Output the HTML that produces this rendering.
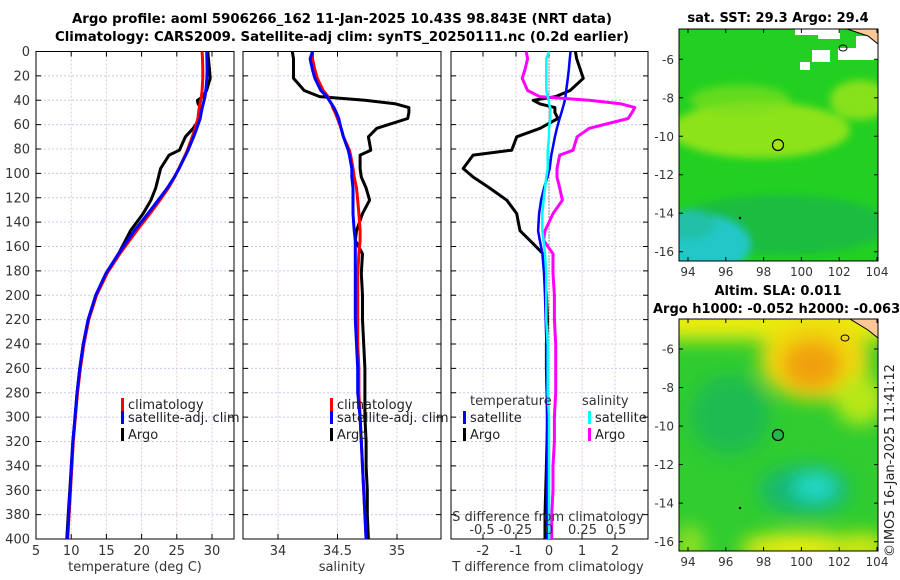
<!DOCTYPE html>
<html><head><meta charset="utf-8"><style>
body{margin:0;background:#fff}
svg{display:block;font-family:"DejaVu Sans","Liberation Sans",sans-serif}
</style></head><body>
<svg id="fig" width="900" height="580" xmlns="http://www.w3.org/2000/svg">
<defs>
<filter id="blur8"><feGaussianBlur stdDeviation="9"/></filter>
<filter id="blur3"><feGaussianBlur stdDeviation="4"/></filter>
<clipPath id="clipM1"><rect x="679" y="29" width="199" height="232"/></clipPath>
<clipPath id="clipM2"><rect x="679" y="319" width="199" height="232"/></clipPath>
</defs>
<text x="342" y="23" text-anchor="middle" font-weight="bold" font-size="13.3">Argo profile: aoml 5906266_162 11-Jan-2025 10.43S 98.843E (NRT data)</text>
<text x="342" y="41" text-anchor="middle" font-weight="bold" font-size="13.3">Climatology: CARS2009. Satellite-adj clim: synTS_20250111.nc (0.2d earlier)</text>
<g id="panels"></g>
<!-- Map 1: SST -->
<g>
<text x="778" y="22" text-anchor="middle" font-weight="bold" font-size="13">sat. SST: 29.3 Argo: 29.4</text>
<g clip-path="url(#clipM1)">
<rect x="679" y="29" width="199" height="232" fill="#22d022"/>
<g filter="url(#blur3)">
<ellipse cx="760" cy="130" rx="90" ry="28" fill="#a0e61a" opacity="0.85"/>
<ellipse cx="860" cy="100" rx="30" ry="20" fill="#a0e61a" opacity="0.8"/>
<ellipse cx="740" cy="100" rx="50" ry="15" fill="#7ee020" opacity="0.7"/>
<ellipse cx="780" cy="225" rx="110" ry="30" fill="#18b848" opacity="0.8"/>
<ellipse cx="700" cy="245" rx="50" ry="30" fill="#20c8c8"/>
<ellipse cx="690" cy="225" rx="25" ry="15" fill="#22c0a8"/>
</g>
<rect x="795" y="29" width="25" height="6" fill="#fff"/>
<rect x="818" y="29" width="22" height="10" fill="#fff"/>
<rect x="812" y="50" width="18" height="12" fill="#fff"/>
<rect x="838" y="48" width="28" height="12" fill="#fff"/>
<rect x="856" y="36" width="22" height="24" fill="#fff"/>
<rect x="800" y="62" width="10" height="8" fill="#fff"/>
<path d="M847,29 L878,29 L878,44 L868,36 Z" fill="#fdc896" stroke="#000" stroke-width="1"/>
<ellipse cx="843" cy="48" rx="4" ry="3" fill="none" stroke="#000"/>
<circle cx="778" cy="145" r="5.5" fill="#a0e61a" stroke="#000" stroke-width="1.2"/>
<circle cx="740" cy="218" r="1.2" fill="#000"/>
</g>
<rect x="679" y="29" width="199" height="232" fill="none" stroke="#000" stroke-width="1"/>
<g id="m1ticks" font-size="12" fill="#333"></g>
</g>
<!-- Map 2: SLA -->
<g>
<text x="778" y="295" text-anchor="middle" font-weight="bold" font-size="13">Altim. SLA: 0.011</text>
<text x="653" y="313" font-weight="bold" font-size="13">Argo h1000: -0.052 h2000: -0.063</text>
<g clip-path="url(#clipM2)">
<rect x="679" y="319" width="199" height="232" fill="#30cc30"/>
<g filter="url(#blur8)">
<rect x="660" y="300" width="240" height="40" fill="#e8ec10"/>
<ellipse cx="815" cy="360" rx="55" ry="40" fill="#f0d810"/>
<ellipse cx="812" cy="365" rx="30" ry="25" fill="#f0a010"/>
<ellipse cx="860" cy="400" rx="25" ry="25" fill="#b8e812"/>
<ellipse cx="730" cy="415" rx="40" ry="40" fill="#18b858" opacity="0.8"/>
<ellipse cx="805" cy="490" rx="45" ry="25" fill="#18b870"/>
<ellipse cx="815" cy="487" rx="22" ry="14" fill="#20d8c8"/>
<ellipse cx="800" cy="548" rx="60" ry="15" fill="#e8ec10"/>
<ellipse cx="860" cy="548" rx="30" ry="15" fill="#d0e810"/>
<ellipse cx="690" cy="545" rx="15" ry="20" fill="#90e020"/>
</g>
<path d="M850,319 L878,319 L878,338 L868,330 Z" fill="#fdc896" stroke="#000" stroke-width="1"/>
<ellipse cx="845" cy="338" rx="4" ry="3" fill="none" stroke="#000"/>
<circle cx="778" cy="435" r="5.5" fill="#28b848" stroke="#000" stroke-width="1.2"/>
<circle cx="740" cy="508" r="1.2" fill="#000"/>
</g>
<rect x="679" y="319" width="199" height="232" fill="none" stroke="#000" stroke-width="1"/>
<g id="m2ticks" font-size="12" fill="#333"></g>
</g>
<text transform="translate(894,557) rotate(-90)" font-size="13" fill="#222">©IMOS 16-Jan-2025 11:41:12</text>
</svg>
<script>
// ---- data (depth in m) ----
const depths = [0,6,15,22,32,37,40,43,46,50,55,63,70,81,85,96,103,112,122,133,147,155,166,182,200,220,240,260,280,300,320,340,360,380,400];
const climT = [28.6,28.65,28.7,28.7,28.6,28.5,28.4,28.3,28.2,28.1,28.0,27.6,27.2,26.5,26.2,25.3,24.7,23.8,22.6,21.2,19.3,18.3,16.9,15.1,13.6,12.5,11.8,11.3,10.9,10.6,10.3,10.1,9.9,9.7,9.5];
const argoTdiff = [0.8,0.84,0.95,1.04,0.64,0.2,-0.48,-0.27,0.18,0.18,0.27,-0.27,-0.98,-1.13,-2.3,-2.6,-2.3,-1.8,-1.28,-0.98,-0.88,-0.58,-0.18,-0.12,-0.08,-0.05,-0.08,-0.08,-0.06,-0.04,-0.06,-0.08,-0.1,-0.12,-0.12];
const satTdiff = [0.65,0.63,0.6,0.57,0.52,0.5,0.48,0.45,0.42,0.38,0.32,0.24,0.18,0.1,0.07,0.02,-0.05,-0.15,-0.24,-0.3,-0.33,-0.28,-0.2,-0.15,-0.12,-0.1,-0.08,-0.08,-0.07,-0.06,-0.06,-0.06,-0.06,-0.06,-0.06];
const climS = [34.29,34.29,34.31,34.33,34.38,34.42,34.43,34.45,34.46,34.48,34.5,34.53,34.55,34.6,34.61,34.63,34.64,34.66,34.67,34.68,34.69,34.69,34.68,34.67,34.67,34.67,34.67,34.68,34.68,34.69,34.7,34.71,34.72,34.73,34.74];
const argoSdiff = [-0.17,-0.16,-0.18,-0.2,-0.16,-0.07,0.3,0.54,0.64,0.62,0.59,0.3,0.21,0.18,0.08,0.06,0.06,0.08,0.1,0.03,-0.03,-0.04,0.03,0.03,0.04,0.04,0.05,0.05,0.05,0.04,0.04,0.03,0.03,0.02,0.02];
const satSdiff = [0.0,-0.02,-0.02,-0.02,-0.02,-0.01,0.0,0.0,0.01,0.01,0.01,0.0,0.0,-0.01,-0.01,-0.01,-0.02,-0.03,-0.04,-0.05,-0.05,-0.04,-0.03,-0.02,-0.02,-0.02,-0.01,-0.01,-0.01,0.0,0.0,0.0,0.0,0.0,0.0];
const depthTicks = [0,20,40,60,80,100,120,140,160,180,200,220,240,260,280,300,320,340,360,380,400];
const tempTicks = [5,10,15,20,25,30];
const salTicks = [34,34.5,35];
const tdiffTicks = [-2,-1,0,1,2];
const sdiffTicks = [-0.5,-0.25,0,0.25,0.5];
const latTicks = [-6,-8,-10,-12,-14,-16];
const lonTicks = [94,96,98,100,102,104];

const NS='http://www.w3.org/2000/svg';
const root=document.getElementById('panels');
function mk(tag,attrs,parent){const e=document.createElementNS(NS,tag);for(const k in attrs)e.setAttribute(k,attrs[k]);(parent||root).appendChild(e);return e;}
const Y0=51.5,Y1=539;
const yOf=d=>Y0+(d/400)*(Y1-Y0);
function linScale(v0,p0,v1,p1){return v=>p0+(v-v0)*(p1-p0)/(v1-v0);}
const xT=linScale(5,36,30,212);
const xS=linScale(34,278,35,397);
const xTd=linScale(0,549,2,615);
const xSd=linScale(0,549,0.5,616);

function panel(name,x0,x1,xs,ticks,labels){
  const g=mk('g',{});
  
  
  ticks.forEach(t=>{const x=xs(t);
    mk('line',{x1:x,x2:x,y1:Y0,y2:Y1,stroke:'#e0c8c8','stroke-dasharray':'2,2','stroke-width':1},g);
    mk('line',{x1:x,x2:x,y1:Y1,y2:Y1-5,stroke:'#000'},g);
    mk('line',{x1:x,x2:x,y1:Y0,y2:Y0+5,stroke:'#000'},g);
  });
  depthTicks.forEach(d=>{const y=yOf(d);
    mk('line',{x1:x0,x2:x1,y1:y,y2:y,stroke:'#c8cce8','stroke-dasharray':'2,2','stroke-width':1},g);
    mk('line',{x1:x0,x2:x0+5,y1:y,y2:y,stroke:'#000'},g);
    mk('line',{x1:x1,x2:x1-5,y1:y,y2:y,stroke:'#000'},g);
  });
  mk('rect',{x:x0,y:Y0,width:x1-x0,height:Y1-Y0,fill:'none',stroke:'#000','stroke-width':1},g);
  if(labels){ticks.forEach((t,i)=>{const tx=mk('text',{x:xs(t),y:555,'text-anchor':'middle','font-size':13,fill:'#333'},g);tx.textContent=labels[i];
    
    });}
  return g;
}
function series(g,name,vals,xs,color,w){
  const pts=vals.map((v,i)=>xs(v).toFixed(1)+','+yOf(depths[i]).toFixed(1)).join(' ');
  const p=mk('polyline',{points:pts,fill:'none',stroke:color,'stroke-width':w,'stroke-linejoin':'round'},g);
  
  
}
function legendEntry(g,x,y,color,label){
  mk('rect',{x:x,y:y-11,width:3,height:13,fill:color},g);
  const t=mk('text',{x:x+7,y:y,'font-size':13,fill:'#222'},g);t.textContent=label;
  
  
}
function txt(g,x,y,s,name,anchor){const t=mk('text',{x:x,y:y,'font-size':13,fill:'#333','text-anchor':anchor||'middle'},g);t.textContent=s;
  
  return t;}

// Panel 1 temperature
const p1=panel('temperature-panel',36,234,xT,tempTicks,tempTicks.map(String));
depthTicks.forEach(d=>{const t=mk('text',{x:30,y:yOf(d)+4.5,'text-anchor':'end','font-size':13,fill:'#333'},p1);t.textContent=d;
  
  });
const argoT=climT.map((v,i)=>v+argoTdiff[i]);
const satT=climT.map((v,i)=>v+satTdiff[i]);
series(p1,'argo-temperature-line',argoT,xT,'#000',3);
series(p1,'climatology-temperature-line',climT,xT,'#f00',3);
series(p1,'satellite-adj-temperature-line',satT,xT,'#00f',3);
txt(p1,135,571,'temperature (deg C)','x-axis-title-temperature');
legendEntry(p1,121,409,'#f00','climatology');
legendEntry(p1,121,422,'#00f','satellite-adj. clim');
legendEntry(p1,121,439,'#000','Argo');

// Panel 2 salinity
const p2=panel('salinity-panel',243,441,xS,salTicks,['34','34.5','35']);
const argoS=climS.map((v,i)=>v+argoSdiff[i]);
const satS=climS.map((v,i)=>v+satSdiff[i]);
series(p2,'argo-salinity-line',argoS,xS,'#000',3);
series(p2,'climatology-salinity-line',climS,xS,'#f00',3);
series(p2,'satellite-adj-salinity-line',satS,xS,'#00f',3);
txt(p2,342,571,'salinity','x-axis-title-salinity');
legendEntry(p2,330,409,'#f00','climatology');
legendEntry(p2,330,422,'#00f','satellite-adj. clim');
legendEntry(p2,330,439,'#000','Argo');

// Panel 3 differences
const p3=panel('difference-panel',451,648,xTd,tdiffTicks,['-2','-1','0','1','2']);
mk('line',{x1:549,x2:549,y1:Y0,y2:Y1,stroke:'#333','stroke-dasharray':'1,2','stroke-width':1},p3);
series(p3,'argo-temperature-diff-line',argoTdiff,xTd,'#000',3);
series(p3,'satellite-temperature-diff-line',satTdiff,xTd,'#00f',2.5);
series(p3,'argo-salinity-diff-line',argoSdiff,xSd,'#f0f',3);
series(p3,'satellite-salinity-diff-line',satSdiff,xSd,'#0ff',2.5);
txt(p3,548,521,'S difference from climatology','s-axis-title');
sdiffTicks.forEach((t,i)=>{txt(p3,xSd(t),534,['-0.5','-0.25','0','0.25','0.5'][i],'s-tick-label');});
txt(p3,548,571,'T difference from climatology','x-axis-title-tdiff');
txt(p3,470,405,'temperature','legend-header-temperature','start');
txt(p3,582,405,'salinity','legend-header-salinity','start');
legendEntry(p3,463,422,'#00f','satellite');
legendEntry(p3,463,439,'#000','Argo');
legendEntry(p3,588,422,'#0ff','satellite');
legendEntry(p3,588,439,'#f0f','Argo');

// Map ticks
function mapTicks(gid,top,lat6y,lat16y){
  const g=document.getElementById(gid);
  const yl=linScale(-6,lat6y,-16,lat16y);
  const xl=linScale(94,688,104,877);
  latTicks.forEach(l=>{const y=yl(l);
    mk('line',{x1:679,x2:683,y1:y,y2:y,stroke:'#000'},g);
    mk('line',{x1:878,x2:874,y1:y,y2:y,stroke:'#000'},g);
    const t=mk('text',{x:674,y:y+4.5,'text-anchor':'end'},g);t.textContent=l;
    
    });
  lonTicks.forEach(l=>{const x=xl(l);
    mk('line',{x1:x,x2:x,y1:top+232,y2:top+228,stroke:'#000'},g);
    mk('line',{x1:x,x2:x,y1:top,y2:top+4,stroke:'#000'},g);
    const t=mk('text',{x:x,y:top+232+15,'text-anchor':'middle'},g);t.textContent=l;
    
    });
}
mapTicks('m1ticks',29,59.3,251.7);
mapTicks('m2ticks',319,349,541.7);
</script>
</body></html>
